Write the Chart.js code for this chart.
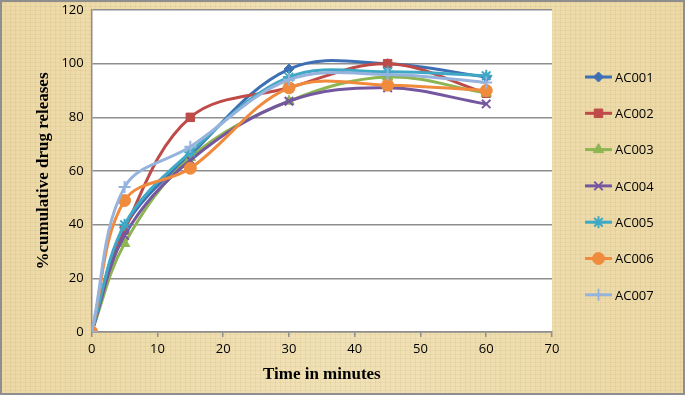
<!DOCTYPE html>
<html>
<head>
  <title>Cumulative drug release</title>
  <script src="https://cdn.jsdelivr.net/npm/chart.js"></script>
  <style>
    body {
      margin: 0;
      padding: 0;
    }

    .frame {
      position: relative;
      width: 685px;
      height: 395px;
      background-color: #ecd9a6;
      background-image:
        repeating-linear-gradient(0deg, rgba(150, 110, 40, 0.07) 0 1px, transparent 1px 4px),
        repeating-linear-gradient(90deg, rgba(150, 110, 40, 0.07) 0 1px, transparent 1px 5px),
        linear-gradient(90deg, rgba(255, 255, 255, 0.0), rgba(255, 250, 230, 0.25), rgba(255, 255, 255, 0.0));
    }

    .frame::after {
      content: '';
      position: absolute;
      left: 0;
      top: 0;
      right: 0;
      bottom: 0;
      border: 2px solid #8e8e8e;
      pointer-events: none;
    }

    canvas {
      display: block;
    }
  </style>
</head>
<body>
  <div class="frame">
    <canvas id="releaseChart" width="685" height="395"></canvas>
  </div>

  <script>
    // Data
    const times = [0, 5, 15, 30, 45, 60];
    const seriesNames = ['AC001', 'AC002', 'AC003', 'AC004', 'AC005', 'AC006', 'AC007'];
    const ac001 = [0, 39, 66, 98, 100, 95];
    const ac002 = [0, 38, 80, 91, 100, 89];
    const ac003 = [0, 33, 65, 86, 95, 89];
    const ac004 = [0, 36, 64, 86, 91, 85];
    const ac005 = [0, 40, 67, 95, 97, 95.5];
    const ac006 = [0, 49, 61, 91, 92, 90];
    const ac007 = [0, 54, 69, 94, 96, 93];
    const xTicks = [0, 10, 20, 30, 40, 50, 60, 70];
    const yTicks = [0, 20, 40, 60, 80, 100, 120];

    const seriesValues = [ac001, ac002, ac003, ac004, ac005, ac006, ac007];
    const seriesColors = ['#3d6fb5', '#be4b48', '#8db551', '#7557a0', '#3fa8c5', '#f08a3c', '#95b3dc'];
    const seriesMarkers = ['rectRot', 'rect', 'triangle', 'crossRot', 'star', 'circle', 'cross'];
    const markerSizes = [5, 6, 6, 6, 6, 6, 6];

    const datasets = seriesNames.map((name, i) => ({
      label: name,
      data: times.map((t, j) => ({ x: t, y: seriesValues[i][j] })),
      borderColor: seriesColors[i],
      backgroundColor: seriesColors[i],
      pointBackgroundColor: seriesColors[i],
      pointBorderColor: seriesColors[i],
      pointStyle: seriesMarkers[i],
      pointRadius: markerSizes[i],
      pointBorderWidth: ['crossRot', 'cross', 'star'].includes(seriesMarkers[i]) ? 2 : 1,
      borderWidth: 3,
      tension: 0.36,
      fill: false,
      // Excel draws later series on top
      order: seriesNames.length - i
    }));

    // white plot area like the Excel chart
    const plotBackground = {
      id: 'plotBackground',
      beforeDraw(chart) {
        const { ctx, chartArea } = chart;
        ctx.save();
        ctx.fillStyle = '#ffffff';
        ctx.fillRect(chartArea.left, chartArea.top, chartArea.right - chartArea.left, chartArea.bottom - chartArea.top);
        ctx.restore();
      }
    };

    // legend with line + marker, stacked on the right
    const sideLegend = {
      id: 'sideLegend',
      afterDraw(chart) {
        const c = chart.ctx;
        const x0 = chart.chartArea.right + 33;
        const lineLen = 27;
        c.save();
        chart.data.datasets.forEach((ds, i) => {
          const y = 77 + i * 36.3;
          c.strokeStyle = ds.borderColor;
          c.fillStyle = ds.backgroundColor;
          c.lineWidth = 3;
          c.beginPath();
          c.moveTo(x0, y);
          c.lineTo(x0 + lineLen, y);
          c.stroke();
          c.lineWidth = ds.pointBorderWidth;
          Chart.helpers.drawPoint(c, {
            pointStyle: ds.pointStyle,
            radius: ds.pointRadius,
            rotation: 0,
            borderWidth: ds.pointBorderWidth
          }, x0 + lineLen / 2, y);
          c.fillStyle = '#000000';
          c.font = '13px "Open Sans"';
          c.textBaseline = 'middle';
          c.textAlign = 'left';
          c.fillText(ds.label, x0 + lineLen + 3, y + 1);
        });
        c.restore();
      }
    };

    const ctx = document.getElementById('releaseChart').getContext('2d');

    const chart = new Chart(ctx, {
      type: 'line',
      data: { datasets: datasets },
      plugins: [plotBackground, sideLegend],
      options: {
        responsive: false,
        animation: false,
        devicePixelRatio: 1,
        layout: {
          padding: { left: 33, right: 133, top: 10, bottom: 10 }
        },
        scales: {
          x: {
            type: 'linear',
            min: 0,
            max: 70,
            afterBuildTicks(axis) {
              axis.ticks = xTicks.map(v => ({ value: v }));
            },
            grid: {
              drawOnChartArea: false,
              drawTicks: true,
              tickLength: 5,
              color: '#8e8e8e',
              lineWidth: 1.5
            },
            border: { color: '#8e8e8e', width: 1.5 },
            ticks: {
              color: '#000000',
              font: { family: '"Open Sans"', size: 13 },
              padding: 4,
              maxRotation: 0
            },
            title: {
              display: true,
              text: 'Time in minutes',
              color: '#000000',
              font: { family: '"Liberation Serif"', size: 17, weight: 'bold' },
              padding: { top: 4, bottom: 0 }
            }
          },
          y: {
            min: 0,
            max: 120,
            afterBuildTicks(axis) {
              axis.ticks = yTicks.map(v => ({ value: v }));
            },
            // let the top label overhang the padding, as in the original
            afterFit(axis) {
              axis.paddingTop = 0;
            },
            grid: {
              drawTicks: false,
              color: '#8e8e8e',
              lineWidth: 1.5
            },
            border: { color: '#8e8e8e', width: 1.5 },
            ticks: {
              color: '#000000',
              font: { family: '"Open Sans"', size: 13 },
              padding: 8
            },
            title: {
              display: true,
              text: '%cumulative drug releases',
              color: '#000000',
              font: { family: '"Liberation Serif"', size: 17, weight: 'bold' },
              padding: { top: 0, bottom: 0 }
            }
          }
        },
        plugins: {
          legend: { display: false },
          tooltip: { enabled: false }
        }
      }
    });
  </script>
</body>
</html>
